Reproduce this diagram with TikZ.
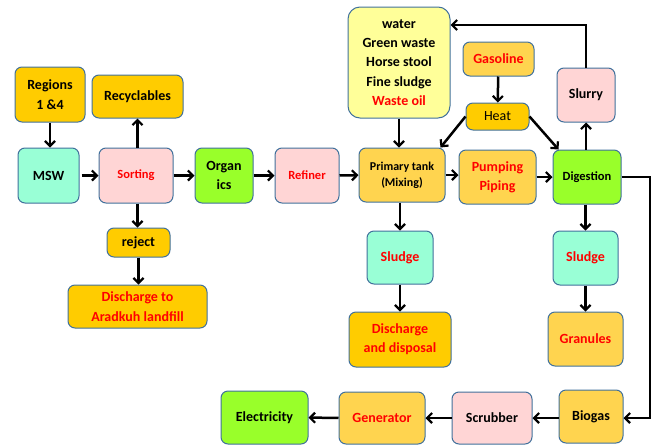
\documentclass[tikz,border=0pt]{standalone}
\usepackage{fontspec}
\setmainfont{Carlito}
\usetikzlibrary{arrows.meta}
\definecolor{gold}{HTML}{FFCC00}
\definecolor{lorange}{HTML}{FFD44F}
\definecolor{aqua}{HTML}{99FFD6}
\definecolor{lpink}{HTML}{FFD5D5}
\definecolor{lgreen}{HTML}{99FF2A}
\definecolor{lyellow}{HTML}{FFFF99}
\definecolor{bdr}{HTML}{41719C}
\definecolor{tred}{HTML}{FF0000}
\tikzset{
  box/.style={draw=bdr, line width=1pt, rounded corners=7pt, align=center, inner sep=0pt,
    font=\fontsize{14}{19.3}\selectfont\bfseries},
  small/.style={font=\fontsize{12.5}{16}\selectfont\bfseries},
  arr/.style={line width=2.5pt, -{Straight Barb[length=5pt,width=10pt,line width=2.2pt]}},
}
\newcommand{\bx}[7]{\node[box, fill=#4, minimum width=#5pt, minimum height=#6pt, #7] (#1) at (#2,#3)}
\begin{document}
\begin{tikzpicture}[x=1pt,y=-1pt]
\useasboundingbox (0,0) rectangle (654,445);
% nodes
\bx{regions}{50}{94.5}{gold}{70}{55}{}{Regions\\1 \&4};
\bx{recyc}{137.5}{96.5}{gold}{91}{43}{}{Recyclables};
\bx{msw}{48.5}{175.5}{aqua}{61}{55}{}{MSW};
\bx{sorting}{136}{175.5}{lpink}{74}{55}{small,text=tred}{Sorting};
\bx{organics}{224}{175.5}{lgreen}{58}{55}{}{Organ\\ics};
\bx{refiner}{307}{175.5}{lpink}{64}{55}{small,text=tred}{Refiner};
\bx{reject}{138.5}{242.5}{gold}{63}{29}{}{reject};
\bx{discha}{137.5}{306.5}{gold}{139}{43}{text=tred}{Discharge to\\Aradkuh landfill};
\bx{water}{399}{62.5}{lyellow}{102}{111}{rounded corners=12pt}{water\\Green waste\\Horse stool\\Fine sludge\\\textcolor{tred}{Waste oil}};
\bx{gasoline}{498.5}{59}{lorange}{71}{34}{text=tred}{Gasoline};
\bx{heat}{497.5}{116.5}{gold}{63}{27}{font=\fontsize{14}{17}\selectfont}{Heat};
\bx{slurry}{586}{95}{lpink}{58}{54}{}{Slurry};
\bx{primary}{402}{175}{lorange}{86}{54}{font=\fontsize{12}{16}\selectfont\bfseries}{Primary tank\\(Mixing)};
\bx{pumping}{497.5}{177}{lorange}{77}{54}{text=tred}{Pumping\\Piping};
\bx{digestion}{587}{177}{lgreen}{68}{54}{small}{Digestion};
\bx{sludgea}{400}{257.5}{aqua}{66}{53}{text=tred}{Sludge};
\bx{dischd}{400}{339.5}{gold}{102}{55}{text=tred}{Discharge\\and disposal};
\bx{sludgeb}{585.5}{258}{aqua}{65}{54}{text=tred}{Sludge};
\bx{granules}{585.5}{339}{lorange}{75}{54}{text=tred}{Granules};
\bx{biogas}{591}{416.5}{lorange}{64}{53}{}{Biogas};
\bx{scrubber}{492}{418}{lpink}{80}{52}{}{Scrubber};
\bx{generator}{382}{418}{lorange}{86}{52}{text=tred}{Generator};
\bx{electricity}{264.5}{417.5}{lgreen}{87}{53}{}{Electricity};
% coordinates
\coordinate (sl1) at (586,25);
\coordinate (dg1) at (650,177);
\coordinate (dg2) at (650,418);
% connectors
\draw[arr] (regions.south) -- (regions.south |- msw.north);
\draw[arr, shorten <=2pt] (msw) -- (sorting);
\draw[arr] (sorting) -- (organics);
\draw[arr] (organics) -- (refiner);
\draw[arr] (refiner) -- (primary);
\draw[arr] (primary.east) -- (pumping.west |- primary.east);
\draw[arr] (pumping) -- (digestion);
\draw[arr] ([xshift=1.5pt]sorting.north) -- ([xshift=1.5pt]sorting.north |- recyc.south);
\draw[arr] ([xshift=1.5pt]sorting.south) -- ([xshift=1.5pt]sorting.south |- reject.north);
\draw[arr] (reject.south) -- (reject.south |- discha.north);
\draw[arr] (water.south) -- (water.south |- primary.north);
\draw[arr] (gasoline) -- (heat);
\draw[arr] (heat.west) -- ([xshift=-5pt]primary.north east);
\draw[arr] (heat.east) -- ([xshift=6pt]digestion.north west);
\draw[arr] ([xshift=-2pt]primary.south) -- ([xshift=-2pt]primary.south |- sludgea.north);
\draw[arr] (sludgea) -- (dischd);
\draw[arr] ([xshift=-1pt]digestion.north) -- ([xshift=-1pt]digestion.north |- slurry.south);
\draw[arr] (slurry.north) -- (sl1) -- (sl1 -| water.east);
\draw[arr] ([xshift=-1.5pt]digestion.south) -- ([xshift=-1.5pt]digestion.south |- sludgeb.north);
\draw[arr] (sludgeb) -- (granules);
\draw[arr, line width=2pt] (digestion.east) -- (dg1) -- (dg2) -- (biogas.east |- dg2);
\draw[arr] (biogas.west |- scrubber.east) -- (scrubber.east);
\draw[arr] (scrubber) -- (generator);
\draw[arr] (generator) -- (electricity);
\end{tikzpicture}
\end{document}
